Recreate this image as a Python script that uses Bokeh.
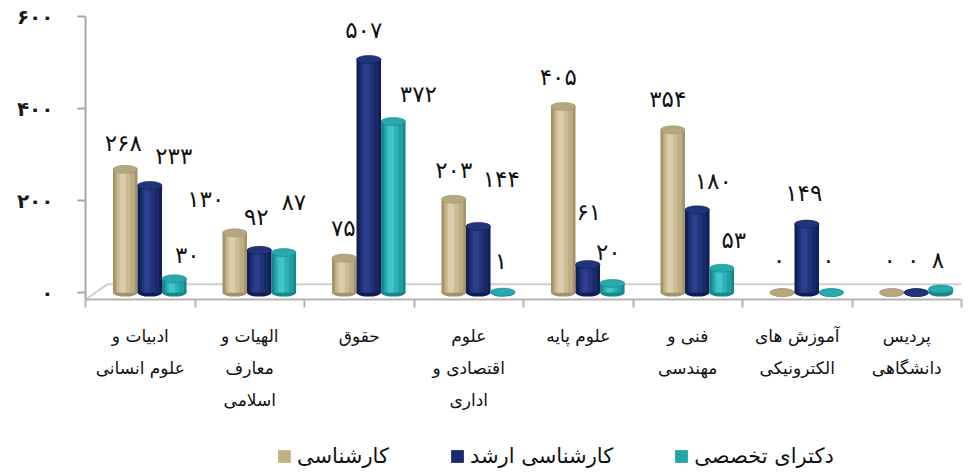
from bokeh.plotting import figure
from bokeh.layouts import column
from bokeh.models import ColumnDataSource, FixedTicker, Legend, LegendItem, Range1d
from bokeh.core.properties import value
from bokeh.embed import file_html
from bokeh.resources import INLINE

# ---- data ----
categories = [
    "ادبیات و\nعلوم انسانی",
    "الهیات و\nمعارف\nاسلامی",
    "حقوق",
    "علوم\nاقتصادی و\nاداری",
    "علوم پایه",
    "فنی و\nمهندسی",
    "آموزش های\nالکترونیکی",
    "پردیس\nدانشگاهی",
]
series_names = ["کارشناسی", "کارشناسی ارشد", "دکترای تخصصی"]
bachelor = [268, 130, 75, 203, 405, 354, 0, 0]
master = [233, 92, 507, 144, 61, 180, 149, 0]
phd = [30, 87, 372, 1, 20, 53, 0, 8]
y_ticks = [0, 200, 400, 600]

# ---- styles ----
palettes = [
    # edge, body, mid, highlight, top
    ["#A39369", "#BDAD83", "#CABB95", "#D9CDAB", "#B7A77E"],
    ["#111E55", "#1A2A68", "#22337A", "#2C3F8C", "#22347C"],
    ["#16878B", "#20A0A5", "#2BB2B6", "#45C4C7", "#27AAAE"],
]
legend_colors = ["#C2B183", "#1B2B6B", "#22A6AA"]
# label nudges (px): horizontal shift, gap above bar top
label_dx = [
    [-2, -29, -1, 0, -5, -5, -3, -2],
    [24, -3, -5, 23, 1, 16, -3, -3],
    [13, 10, 25, -2, -4, 12, -3, -3],
]
label_gap = [
    [15, 23, 19, 18, 18, 20, 22, 22],
    [18, 22, 18, 36, 42, 18, 20, 22],
    [13, 40, 17, 20, 20, 17, 22, 18],
]

FA = str.maketrans("0123456789", "۰۱۲۳۴۵۶۷۸۹")


def fa(n):
    return str(n).translate(FA)


FONT = "DejaVu Sans"
n = len(categories)
bar_w = 0.224
group_shift = 0.087

p = figure(
    width=963, height=416,
    x_range=Range1d(0, n), y_range=Range1d(-15, 607),
    output_backend="svg", toolbar_location=None,
    min_border_left=85, min_border_right=2, min_border_top=13, min_border_bottom=117,
)
p.outline_line_color = None
p.xgrid.visible = False
p.ygrid.visible = False
p.background_fill_color = "white"

# floor (3D base)
p.line(x=[0, 0.2, n + 0.2], y=[-15, 18, 18], line_color="#CFCFCF", line_width=2)

for s, vals in enumerate([bachelor, master, phd]):
    xs = [i + 0.5 + group_shift + (s - 1) * bar_w for i in range(n)]
    edge, body, mid, hi, top = palettes[s]
    src = ColumnDataSource(dict(x=xs, top=vals))
    p.vbar(x="x", top="top", bottom=0, width=bar_w, source=src,
           fill_color=edge, line_color=None)
    p.ellipse(x="x", y=0, width=bar_w, height=8, width_units="data", height_units="screen",
              source=src, fill_color=edge, line_color=None)
    p.vbar(x="x", top="top", bottom=0, width=bar_w * 0.78, source=src,
           fill_color=body, line_color=None)
    src_mid = ColumnDataSource(dict(x=[x - bar_w * 0.06 for x in xs], top=vals))
    p.vbar(x="x", top="top", bottom=0, width=bar_w * 0.52, source=src_mid,
           fill_color=mid, line_color=None)
    src_hi = ColumnDataSource(dict(x=[x - bar_w * 0.1 for x in xs], top=vals))
    p.vbar(x="x", top="top", bottom=0, width=bar_w * 0.25, source=src_hi,
           fill_color=hi, line_color=None)
    p.ellipse(x="x", y="top", width=bar_w, height=8, width_units="data", height_units="screen",
              source=src, fill_color=top, line_color=edge, line_width=0.6)

    lsrc = ColumnDataSource(dict(
        x=xs, y=vals, text=[fa(v) for v in vals],
        dx=label_dx[s], dy=[-(g + 11) for g in label_gap[s]],
    ))
    p.text(x="x", y="y", text="text", x_offset="dx", y_offset="dy", source=lsrc,
           text_font=value(FONT), text_font_size=value("23px"), text_color="#111111",
           text_align="center", text_baseline="alphabetic")

# y axis
ya = p.yaxis[0]
ya.ticker = FixedTicker(ticks=y_ticks)
ya.major_label_overrides = {t: fa(t) for t in y_ticks}
ya.bounds = (-15, 600)
ya.axis_line_color = "#A8A8A8"
ya.axis_line_width = 2
ya.major_tick_line_color = "#A8A8A8"
ya.major_tick_line_width = 2
ya.major_tick_out = 8
ya.major_tick_in = 0
ya.minor_tick_line_color = None
ya.major_label_standoff = 24
ya.major_label_text_font = FONT
ya.major_label_text_font_size = "20px"
ya.major_label_text_font_style = "bold"
ya.major_label_text_color = "#1a1a1a"

# x axis
xa = p.xaxis[0]
centers = [i + 0.5 for i in range(n)]
xa.ticker = FixedTicker(ticks=centers, minor_ticks=list(range(n + 1)))
xa.major_label_overrides = {c: categories[i] for i, c in enumerate(centers)}
xa.axis_line_color = "#B4B4B4"
xa.axis_line_width = 2
xa.major_tick_line_color = None
xa.major_tick_out = 0
xa.major_tick_in = 0
xa.minor_tick_line_color = "#B4B4B4"
xa.minor_tick_line_width = 2
xa.minor_tick_out = 8
xa.minor_tick_in = 0
xa.major_label_standoff = 18
xa.major_label_text_font = FONT
xa.major_label_text_font_size = "17px"
xa.major_label_text_line_height = 1.6
xa.major_label_text_color = "#111111"

# ---- legend strip ----
lp = figure(
    width=963, height=54, x_range=Range1d(0, 1), y_range=Range1d(0, 1),
    output_backend="svg", toolbar_location=None,
    x_axis_location=None, y_axis_location=None,
    min_border_left=85, min_border_right=2, min_border_top=0, min_border_bottom=0,
)
lp.outline_line_color = None
lp.xgrid.visible = False
lp.ygrid.visible = False
items = []
for s in range(3):
    # zero-size placeholder renderer, used only for the legend swatch
    r = lp.vbar(x=[0.5], top=[0.5], bottom=0.5, width=0,
                fill_color=legend_colors[s], line_color=None)
    items.append(LegendItem(label=series_names[s], renderers=[r]))
legend = Legend(
    items=items, orientation="horizontal", location=(191, 2),
    glyph_width=16, glyph_height=16, label_standoff=5, spacing=60,
    padding=0, margin=0, border_line_color=None, background_fill_alpha=0,
    label_text_font=FONT, label_text_font_size="21px", label_text_color="#111111",
)
lp.add_layout(legend)

open("out.html", "w").write(file_html(column(p, lp, spacing=0), INLINE))
